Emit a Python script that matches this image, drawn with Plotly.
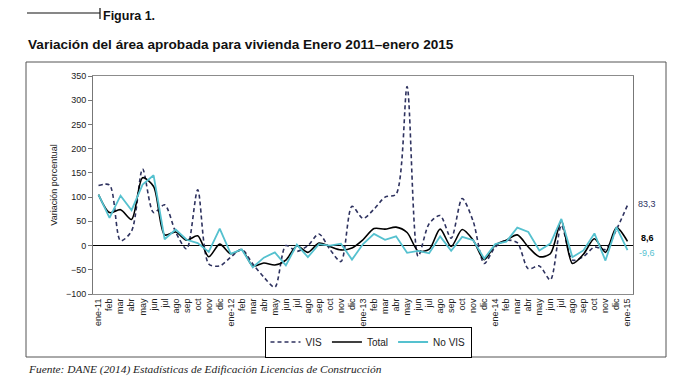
import plotly.graph_objects as go

months = ["ene-11", "feb", "mar", "abr", "may", "jun", "jul", "ago", "sep", "oct", "nov", "dic",
          "ene-12", "feb", "mar", "abr", "may", "jun", "jul", "ago", "sep", "oct", "nov", "dic",
          "ene-13", "feb", "mar", "abr", "may", "jun", "jul", "ago", "sep", "oct", "nov", "dic",
          "ene-14", "feb", "mar", "abr", "may", "jun", "jul", "ago", "sep", "oct", "nov", "dic",
          "ene-15"]

vis = [124, 125, 10, 30, 158, 68, 84, 28, -7, 115, -38, -42,
       -24, -8, -38, -65, -86, 0, -12, 0, 24, -8, -33, 81,
       56, 75, 100, 106, 328, -22, 45, 62, 15, 97, 50, -37,
       -3, 11, 6, -48, -42, -71, 42, -30, -23, -3, -8, 33,
       83.3]

total = [105, 68, 74, 54, 140, 122, 22, 28, 11, 20, -23, 3,
         -17, -9, -42, -36, -40, -30, -1, -14, 5, -2, -9, -5,
         12, 35, 34, 38, 27, -11, -8, 34, -2, 33, 11, -29,
         1, 11, 22, -3, -23, -17, 51, -37, -18, 14, -14, 37,
         8.6]

no_vis = [105, 57, 103, 73, 126, 145, 13, 33, 12, 5, -13, 35,
          -17, -8, -45, -25, -14, -41, 2, -24, 3, 0, 4, -29,
          3, 24, 12, 19, -15, -11, -16, 19, -11, 18, 11, -27,
          3, 8, 37, 28, -10, 4, 55, -24, -10, 25, -31, 38,
          -9.6]

x_idx = list(range(len(months)))

C_VIS = "#2e325f"
C_TOT = "#000000"
C_NOVIS = "#55c1cf"

# The page body adds an 8px offset; design in page pixels and compensate.
OFF = 8
W, H = 680 - OFF, 379 - OFF
PL, PR, PT, PB = 93, 633, 76, 294  # plot area in page pixels
ML, MR, MT, MB = PL - OFF, W - (PR - OFF), PT - OFF, H - (PB - OFF)
PW, PH = W - ML - MR, H - MT - MB


def px(xp):
    return (xp - OFF - ML) / PW


def py(yp):
    return (H - MB - (yp - OFF)) / PH


fig = go.Figure()
fig.add_trace(go.Scatter(x=x_idx, y=vis, name="VIS", mode="lines",
                         line=dict(color=C_VIS, width=1.6, dash="4px,3px", shape="spline", smoothing=0.8)))
fig.add_trace(go.Scatter(x=x_idx, y=total, name="Total", mode="lines",
                         line=dict(color=C_TOT, width=1.6, shape="spline", smoothing=0.8)))
fig.add_trace(go.Scatter(x=x_idx, y=no_vis, name="No VIS", mode="lines",
                         line=dict(color=C_NOVIS, width=1.8)))

fig.update_layout(
    width=W, height=H,
    margin=dict(l=ML, r=MR, t=MT, b=MB, autoexpand=False),
    paper_bgcolor="white", plot_bgcolor="white",
    font=dict(family="Liberation Sans, Arial, sans-serif", size=9, color="#222"),
    showlegend=True,
    legend=dict(orientation="h", x=px(368), xanchor="center", y=py(342), yanchor="middle",
                bordercolor="#000", borderwidth=1, font=dict(size=10, color="#222"),
                itemwidth=30, tracegroupgap=0),
    xaxis=dict(range=[-0.5, len(months) - 0.5], tickmode="array", tickvals=x_idx, ticktext=months,
               tickangle=-90, showgrid=False, zeroline=False, showline=True, linecolor="#8c8c8c",
               linewidth=1, mirror=True, ticks="", tickfont=dict(size=9, color="#222"), automargin=False),
    yaxis=dict(range=[-100, 350], dtick=50, showgrid=False, zeroline=True, zerolinecolor="#000",
               zerolinewidth=1, showline=True, linecolor="#777", linewidth=1, mirror=True,
               ticks="outside", ticklen=4, tickcolor="#777", tickfont=dict(size=9, color="#222"),
               automargin=False,
               title=dict(text="Variación porcentual", font=dict(size=9, color="#222"), standoff=6)),
)

# End-value labels
fig.add_annotation(x=len(months) - 1, y=vis[-1], xref="x", yref="y", text="83,3", showarrow=False,
                   xanchor="left", xshift=9, yshift=1, font=dict(size=9, color=C_VIS))
fig.add_annotation(x=len(months) - 1, y=15, xref="x", yref="y", text="<b>8,6</b>", showarrow=False,
                   xanchor="left", xshift=12, font=dict(size=9, color="#000"))
fig.add_annotation(x=len(months) - 1, y=-15, xref="x", yref="y", text="-9,6", showarrow=False,
                   xanchor="left", xshift=10, font=dict(size=9, color=C_NOVIS))

# Headings
fig.add_annotation(x=px(102), y=py(8), xref="paper", yref="paper", text="<b>Figura 1.</b>",
                   showarrow=False, xanchor="left", yanchor="top", borderpad=0,
                   font=dict(family="Liberation Sans, Arial", size=12.5, color="#111"))
fig.add_annotation(x=px(26), y=py(44), xref="paper", yref="paper",
                   text="<b>Variación del área aprobada para vivienda Enero 2011–enero 2015</b>",
                   showarrow=False, xanchor="left", yanchor="middle",
                   font=dict(family="Liberation Sans, Arial", size=13.6, color="#111"))
fig.add_annotation(x=px(26), y=py(369), xref="paper", yref="paper",
                   text="<i>Fuente: DANE (2014) Estadísticas de Edificación Licencias de Construcción</i>",
                   showarrow=False, xanchor="left", yanchor="middle",
                   font=dict(family="Liberation Serif, serif", size=11.4, color="#222"))

# Decorative rule and frame
fig.add_shape(type="line", xref="paper", yref="paper", x0=px(27), x1=px(100), y0=py(13), y1=py(13),
              line=dict(color="#111", width=1.2))
fig.add_shape(type="line", xref="paper", yref="paper", x0=px(100), x1=px(100), y0=py(8), y1=py(19),
              line=dict(color="#111", width=1.2))
fig.add_shape(type="rect", xref="paper", yref="paper", x0=px(26), x1=px(666), y0=py(357), y1=py(62),
              line=dict(color="#555", width=1), layer="below")

fig.write_html("out.html")
